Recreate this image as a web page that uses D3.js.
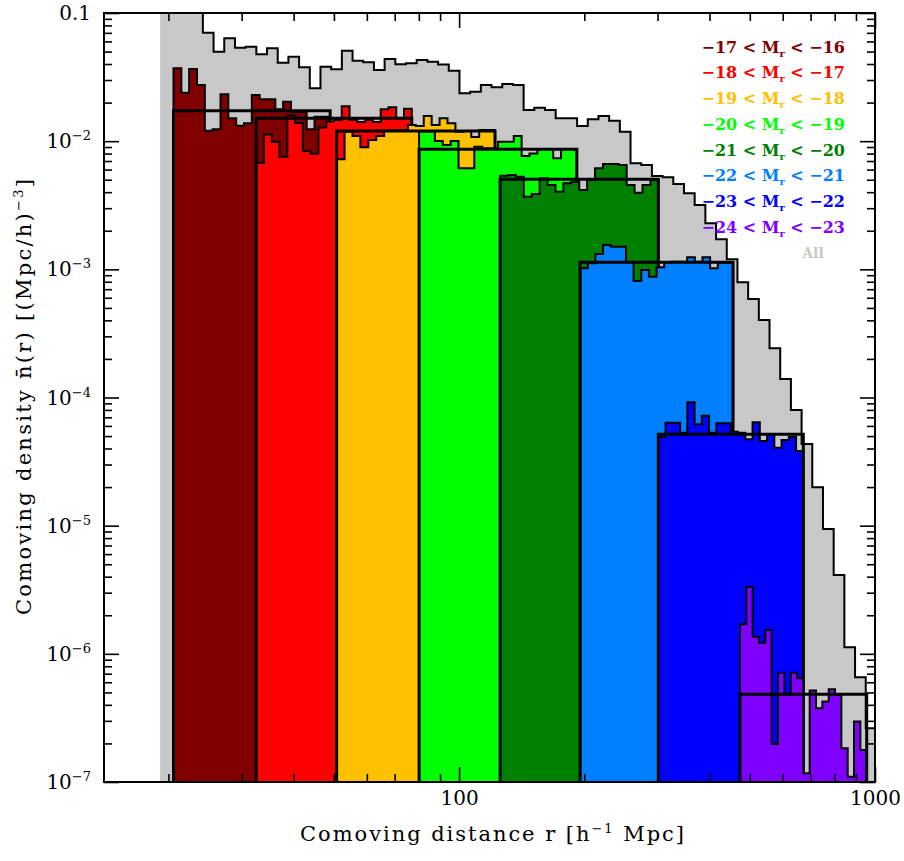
<!DOCTYPE html>
<html>
<head>
<meta charset="utf-8">
<script src="https://cdn.jsdelivr.net/npm/d3@7"></script>
<style>
  body { margin: 0; background: #fff; }
  svg text { font-family: "DejaVu Serif", serif; }
</style>
</head>
<body>
<svg id="chart" width="904" height="861"></svg>
<script>
// ---- data -----------------------------------------------------------------
// absolute-magnitude limits of each volume-limited sample (bright, faint)
const magLimits = [["−17", "−16"], ["−18", "−17"], ["−19", "−18"], ["−20", "−19"],
                   ["−21", "−20"], ["−22", "−21"], ["−23", "−22"], ["−24", "−23"]];
const binColors = ["#800000", "#ff0000", "#ffc000", "#00ff00",
                   "#008000", "#0080ff", "#0000ff", "#8000ff"];
// comoving distance range of each sample [h^-1 Mpc]
const binRanges = [[20.57, 48.97], [32.51, 76.95], [50.76, 122.0], [80.13, 191.9],
                   [125.5, 301.3], [195.4, 455.7], [301.3, 672.4], [473.6, 955.1]];
// mean density of each sample [(h^-1 Mpc)^-3]
const binMeans = [0.0173, 0.0151, 0.0120, 0.00864, 0.00504, 0.001135, 5.16e-5, 4.84e-7];

// radial density profiles n(r) of each sample, 20 log-spaced shells over its range
const hist17 = [0.0370, 0.0239, 0.0366, 0.0274, 0.01208, 0.01238, 0.0232, 0.01509, 0.01321, 0.01378,
                0.0229, 0.0212, 0.0212, 0.01775, 0.0203, 0.0169, 0.0170, 0.01238, 0.01553, 0.01553];
const hist18 = [0.00679, 0.01127, 0.00990, 0.00757, 0.01585, 0.01387, 0.00838, 0.00798, 0.01279, 0.01423,
                0.01463, 0.01870, 0.01471, 0.01412, 0.01471, 0.01412, 0.01776, 0.01837, 0.01508, 0.01789];
const hist19 = [0.00722, 0.01186, 0.01097, 0.00895, 0.01021, 0.01097, 0.01208, 0.01222, 0.01222, 0.01337,
                0.01313, 0.01570, 0.01337, 0.01508, 0.01378, 0.01186, 0.0120, 0.0108, 0.01222, 0.01222];
const hist20 = [0.01186, 0.01186, 0.01003, 0.00933, 0.01003, 0.00614, 0.00614, 0.00906, 0.0088, 0.0088,
                0.0099, 0.0099, 0.01096, 0.00766, 0.0080, 0.00864, 0.00864, 0.00735, 0.00864, 0.00864];
const hist21 = [5.38e-3, 5.45e-3, 5.28e-3, 3.69e-3, 3.87e-3, 5.13e-3, 4.55e-3, 4.03e-3, 4.69e-3, 4.83e-3,
                4.16e-3, 4.98e-3, 6.14e-3, 6.64e-3, 6.64e-3, 6.52e-3, 4.55e-3, 3.96e-3, 4.55e-3, 4.98e-3];
const hist22 = [1.019e-3, 1.114e-3, 1.318e-3, 1.549e-3, 1.502e-3, 1.502e-3, 1.135e-3, 8.11e-4, 9.88e-4, 8.76e-4,
                1.038e-3, 1.135e-3, 1.147e-3, 1.147e-3, 1.242e-3, 1.147e-3, 1.242e-3, 1.019e-3, 1.127e-3, 1.127e-3];
const hist23 = [4.94e-5, 6.36e-5, 6.36e-5, 5.31e-5, 9.18e-5, 6.18e-5, 7.21e-5, 5.31e-5, 6.29e-5, 6.29e-5,
                5.41e-5, 5.31e-5, 4.72e-5, 6.40e-5, 4.58e-5, 5.16e-5, 4.06e-5, 4.66e-5, 4.94e-5, 3.83e-5];
const hist24 = [1.70e-6, 3.34e-6, 1.361e-6, 1.222e-6, 1.535e-6, 1.98e-7, 7.13e-7, 4.78e-7, 7.13e-7, 6.45e-7,
                1.17e-7, 5.17e-7, 3.76e-7, 4.24e-7, 5.29e-7, 4.78e-7, 1.83e-7, 1.10e-7, 2.96e-7, 1.78e-7];

// full flux-limited catalogue, 67 log-spaced shells
const allRange = [19.1, 1008];
const allDensity = [0.16, 0.14, 0.13, 0.11, 0.0702, 0.0499, 0.0635, 0.0536, 0.0546, 0.0476,
                    0.0531, 0.0409, 0.0456, 0.0377, 0.0259, 0.0381, 0.0364, 0.0508, 0.0425, 0.0412,
                    0.0359, 0.0438, 0.0398, 0.0405, 0.0430, 0.0417, 0.0397, 0.0355, 0.0236, 0.0243,
                    0.0274, 0.0263, 0.0279, 0.0274, 0.0175, 0.0182, 0.0175, 0.01508, 0.01508, 0.01312,
                    0.01482, 0.0157, 0.01445, 0.01186, 0.00672, 0.00652, 0.00535, 0.00522, 0.00463, 0.00392,
                    0.00318, 0.00229, 0.001714, 0.001197, 0.000792, 0.000587, 0.000403, 0.000242, 0.0001394, 7.98e-5,
                    4.33e-5, 1.99e-5, 9.41e-6, 4.12e-6, 1.124e-6, 6.56e-7, 2.63e-7];

const xMajorTicks = [100, 1000];
const xMinorTicks = [20, 30, 40, 50, 60, 70, 80, 90, 200, 300, 400, 500, 600, 700, 800, 900];
const yMajorTicks = [1e-1, 1e-2, 1e-3, 1e-4, 1e-5, 1e-6, 1e-7];
const yTickLabels = [["0.1", ""], ["10", "−2"], ["10", "−3"], ["10", "−4"], ["10", "−5"], ["10", "−6"], ["10", "−7"]];

// ---- layout ---------------------------------------------------------------
const svg = d3.select("#chart");
const L = 104, R = 875, T = 13, B = 782;
const x = d3.scaleLog().domain([14, 1000]).range([L, R]);
const y = d3.scaleLog().domain([1e-7, 0.1]).range([B, T]);

const yMinorTicks = [];
yMajorTicks.slice(1).forEach(d => { for (let k = 2; k <= 9; k++) yMinorTicks.push(d * k); });

svg.append("defs").append("clipPath").attr("id", "plotclip")
  .append("rect").attr("x", L).attr("y", T).attr("width", R - L).attr("height", B - T);

const plot = svg.append("g").attr("clip-path", "url(#plotclip)");

// log-spaced shell edges over [r0, r1]
function shellEdges(range, n) {
  const a = Math.log10(range[0]), b = Math.log10(range[1]);
  return d3.range(n + 1).map(k => Math.pow(10, a + (b - a) * k / n));
}

function stepPoints(range, values) {
  const e = shellEdges(range, values.length);
  const pts = [];
  values.forEach((v, i) => { pts.push([x(e[i]), y(v)]); pts.push([x(e[i + 1]), y(v)]); });
  return pts;
}

function drawHistogram(range, values, fill, closedEnds) {
  const pts = stepPoints(range, values);
  const first = pts[0], last = pts[pts.length - 1];
  const area = [[first[0], y(1e-7) + 5], ...pts, [last[0], y(1e-7) + 5]];
  plot.append("path")
    .attr("d", d3.line()(area) + "Z")
    .attr("fill", fill).attr("stroke", "none");
  const outline = closedEnds ? area : pts;
  plot.append("path")
    .attr("d", d3.line()(outline))
    .attr("fill", "none").attr("stroke", "#000").attr("stroke-width", 2)
    .attr("stroke-linejoin", "miter");
}

// whole catalogue in the background
drawHistogram(allRange, allDensity, "#c8c8c8", false);

// samples, faintest first; each with its mean-density box
const profiles = [hist17, hist18, hist19, hist20, hist21, hist22, hist23, hist24];
profiles.forEach((h, i) => {
  drawHistogram(binRanges[i], h, binColors[i], true);
  const x0 = x(binRanges[i][0]), x1 = x(binRanges[i][1]);
  plot.append("path")
    .attr("d", d3.line()([[x0, y(1e-7) + 5], [x0, y(binMeans[i])], [x1, y(binMeans[i])], [x1, y(1e-7) + 5]]))
    .attr("fill", "none").attr("stroke", "#000").attr("stroke-width", 3);
});

// ---- axes -----------------------------------------------------------------
const axisStyle = g => {
  g.select(".domain").remove();
  g.selectAll(".tick line").attr("stroke", "#000").attr("stroke-width", 1.6);
};
const noLabel = () => "";

svg.append("g").attr("transform", `translate(0,${B})`)
  .call(d3.axisBottom(x).tickValues(xMinorTicks).tickSize(-8).tickFormat(noLabel)).call(axisStyle);
svg.append("g").attr("transform", `translate(0,${B})`)
  .call(d3.axisBottom(x).tickValues(xMajorTicks).tickSize(-15).tickPadding(9).tickFormat(d3.format("d")))
  .call(axisStyle)
  .call(g => g.selectAll(".tick text").attr("font-size", 20).attr("fill", "#000")
    .attr("font-family", "DejaVu Serif"));
svg.append("g").attr("transform", `translate(0,${T})`)
  .call(d3.axisTop(x).tickValues(xMinorTicks).tickSize(-8).tickFormat(noLabel)).call(axisStyle);
svg.append("g").attr("transform", `translate(0,${T})`)
  .call(d3.axisTop(x).tickValues(xMajorTicks).tickSize(-15).tickFormat(noLabel)).call(axisStyle);

svg.append("g").attr("transform", `translate(${L},0)`)
  .call(d3.axisLeft(y).tickValues(yMinorTicks).tickSize(-8).tickFormat(noLabel)).call(axisStyle);
svg.append("g").attr("transform", `translate(${L},0)`)
  .call(d3.axisLeft(y).tickValues(yMajorTicks).tickSize(-15).tickFormat(noLabel)).call(axisStyle);
svg.append("g").attr("transform", `translate(${R},0)`)
  .call(d3.axisRight(y).tickValues(yMinorTicks).tickSize(-8).tickFormat(noLabel)).call(axisStyle);
svg.append("g").attr("transform", `translate(${R},0)`)
  .call(d3.axisRight(y).tickValues(yMajorTicks).tickSize(-15).tickFormat(noLabel)).call(axisStyle);

// y tick labels with exponents
yMajorTicks.forEach((v, i) => {
  const t = svg.append("text")
    .attr("x", 91).attr("y", y(v) + 7)
    .attr("text-anchor", "end").attr("font-size", 20).attr("fill", "#000");
  t.append("tspan").text(yTickLabels[i][0]);
  if (yTickLabels[i][1]) t.append("tspan").attr("dy", -8).attr("font-size", 13).text(yTickLabels[i][1]);
});

// frame
svg.append("rect").attr("x", L).attr("y", T).attr("width", R - L).attr("height", B - T)
  .attr("fill", "none").attr("stroke", "#000").attr("stroke-width", 2);

// axis titles
const xt = svg.append("text").attr("x", 300).attr("y", 841)
  .attr("font-size", 21).attr("fill", "#000").attr("textLength", 384).attr("lengthAdjust", "spacing");
xt.append("tspan").text("Comoving distance r [h");
xt.append("tspan").attr("dy", -8).attr("font-size", 13).text("−1");
xt.append("tspan").attr("dy", 8).text(" Mpc]");

const yt = svg.append("text").attr("transform", "translate(31,615) rotate(-90)")
  .attr("font-size", 21).attr("fill", "#000").attr("textLength", 436).attr("lengthAdjust", "spacing");
yt.append("tspan").text("Comoving density n\u0304(r) [(Mpc/h)");
yt.append("tspan").attr("dy", -8).attr("font-size", 13).text("−3");
yt.append("tspan").attr("dy", 8).text("]");

// legend
magLimits.forEach((m, i) => {
  const t = svg.append("text").attr("x", 845).attr("y", 46.7 + i * 25.7 + 6)
    .attr("text-anchor", "end").attr("font-size", 16).attr("font-weight", "bold")
    .attr("fill", binColors[i]);
  t.append("tspan").text(`${m[0]} < M`);
  t.append("tspan").attr("dy", 4).attr("font-size", 10).text("r");
  t.append("tspan").attr("dy", -4).text(` < ${m[1]}`);
});
svg.append("text").attr("x", 813).attr("y", 258).attr("text-anchor", "middle")
  .attr("font-size", 14).attr("font-weight", "bold").attr("fill", "#c8c8c8").text("All");
</script>
</body>
</html>
